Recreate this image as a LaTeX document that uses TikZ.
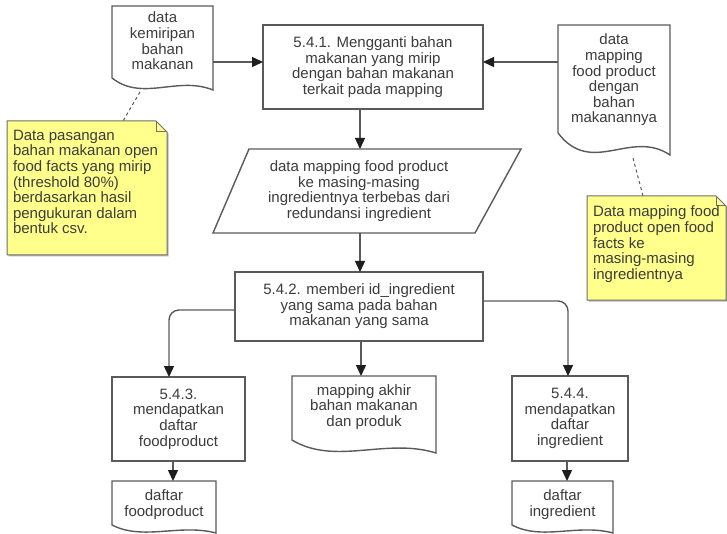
\documentclass[tikz,border=0pt]{standalone}
\usepackage{fontspec}
\setmainfont{Liberation Sans}
\usetikzlibrary{arrows.meta,calc}

\definecolor{ink}{HTML}{3C3C3C}
\definecolor{edge}{HTML}{5A5A5A}
\definecolor{tipc}{HTML}{1E1E1E}
\definecolor{notefill}{HTML}{FFFF8C}
\definecolor{noteedge}{HTML}{6E6E6E}

\tikzset{
  base/.style={inner sep=0pt, outer sep=0pt, text=ink, align=center,
    font=\fontsize{15}{15.6}\selectfont},
  procbox/.style={base, draw=edge, line width=1.4pt, fill=white},
  holder/.style={base, draw=none},
  txt/.style={base},
  notetxt/.style={base, align=left, anchor=north west},
  outline/.style={draw=edge, line width=1.4pt, fill=white, line join=miter},
  flow/.style={draw=edge, line width=1.4pt,
    -{Triangle[length=11pt,width=10pt,color=tipc]}},
  link/.style={draw=edge, line width=1pt, dash pattern=on 3pt off 3pt},
  notebody/.style={draw=noteedge, line width=1pt, fill=notefill},
  noteshadow/.style={fill=black!28},
}

% document symbol: flat top, wavy bottom; #2 = wave depth
\newcommand\docoutline[2]{%
  \draw[outline] (#1.north west) -- (#1.north east) -- (#1.south east)
    .. controls ($(#1.south west)!0.65!(#1.south east)+(0,-1.2*#2)$)
       and ($(#1.south west)!0.3!(#1.south east)+(0,#2)$)
    .. ($(#1.south west)+(0,-#2)$) -- cycle;}

% annotation sheet with a folded top-right corner; #2 = fold size
\newcommand\notepaper[2]{%
  \fill[noteshadow] ($(#1.south west)+(1.5,1.5)$) -- ($(#1.north west)+(1.5,1.5)$)
    -- ($(#1.north east)+(-#2+1.5,1.5)$) -- ($(#1.north east)+(1.5,#2+1.5)$)
    -- ($(#1.south east)+(1.5,1.5)$) -- cycle;
  \draw[notebody] (#1.south west) -- (#1.north west)
    -- ($(#1.north east)+(-#2,0)$) -- ($(#1.north east)+(0,#2)$)
    -- (#1.south east) -- cycle;
  \draw[draw=noteedge, line width=1pt] ($(#1.north east)+(-#2,0)$)
    -- ($(#1.north east)+(-#2,#2)$) -- ($(#1.north east)+(0,#2)$);}

\begin{document}
\begin{tikzpicture}[x=1pt, y=-1pt]
\useasboundingbox (0,0) rectangle (727,534);

% ---- annotations ----
\node[holder, minimum width=160pt, minimum height=134pt] (n1) at (87,188) {};
\notepaper{n1}{11}
\node[notetxt] (n1t) at (13,130) {Data pasangan\\bahan makanan open\\food facts yang mirip\\(threshold 80\%)\\berdasarkan hasil\\pengukuran dalam\\bentuk csv.};

\node[holder, minimum width=139pt, minimum height=104pt] (n2) at (656.5,248) {};
\notepaper{n2}{10}
\node[notetxt] (n2t) at (593,206) {Data mapping food\\product open food\\facts ke\\masing-masing\\ingredientnya};

% ---- input documents ----
\node[holder, minimum width=101pt, minimum height=84pt] (d1) at (162.5,48) {};
\docoutline{d1}{12}
\node[txt] (d1t) at ($(d1.center)+(0,-7)$) {data\\kemiripan\\bahan\\makanan};

\node[holder, minimum width=112pt, minimum height=130pt] (d2) at (614,90) {};
\docoutline{d2}{22}
\node[txt] (d2t) at ($(d2.center)+(0,-10)$) {data\\mapping\\food product\\dengan\\bahan\\makanannya};

% ---- process 5.4.1 ----
\node[procbox, minimum width=220pt, minimum height=84pt] (p541) at (373,67) {5.4.1. Mengganti bahan\\makanan yang mirip\\dengan bahan makanan\\terkait pada mapping};

% ---- intermediate data (parallelogram) ----
\node[holder, minimum width=308pt, minimum height=84pt] (io) at (367,191) {};
\draw[outline] (io.south west) -- ($(io.north west)+(36,0)$) -- (io.north east)
  -- ($(io.south east)+(-46,0)$) -- cycle;
\node[txt] (iot) at (359,191) {data mapping food product\\ke masing-masing\\ingredientnya terbebas dari\\redundansi ingredient};

% ---- process 5.4.2 ----
\node[procbox, minimum width=248pt, minimum height=69pt] (p542) at (359,306.5) {5.4.2. memberi id\_ingredient\\yang sama pada bahan\\makanan yang sama};

% ---- processes 5.4.3 / 5.4.4 ----
\node[procbox, minimum width=133pt, minimum height=84pt] (p543) at (178.5,419) {5.4.3.\\mendapatkan\\daftar\\foodproduct};
\node[procbox, minimum width=116pt, minimum height=85pt] (p544) at (570,418.5) {5.4.4.\\mendapatkan\\daftar\\ingredient};

% ---- output documents ----
\node[holder, minimum width=144pt, minimum height=77pt] (d3) at (364,414.5) {};
\docoutline{d3}{13}
\node[txt] (d3t) at ($(d3.center)+(0,-7.5)$) {mapping akhir\\bahan makanan\\dan produk};

\node[holder, minimum width=104pt, minimum height=52pt] (d4) at (164,507) {};
\docoutline{d4}{8}
\node[txt] (d4t) at ($(d4.center)+(0,-2.5)$) {daftar\\foodproduct};

\node[holder, minimum width=101pt, minimum height=52pt] (d5) at (562.5,507) {};
\docoutline{d5}{8}
\node[txt] (d5t) at ($(d5.center)+(0,-2.5)$) {daftar\\ingredient};

% ---- connectors ----
\draw[link] ($(d1.south west)+(28,2)$) -- ($(n1.north)+(36,0)$);
\draw[link] ($(d2.south west)+(75,3)$) -- ($(n2.north)+(-13.5,0)$);

\draw[flow] ($(d1.east)+(0,14)$) -- ($(p541.west)+(0,-5)$);
\draw[flow] ($(d2.west)+(0,-28)$) -- ($(p541.east)+(0,-5)$);
\draw[flow] ($(p541.south)+(-13,0)$) -- ($(io.north)+(-7,0)$);
\draw[flow] ($(io.south)+(-7,0)$) -- ($(p542.north)+(1,0)$);
\draw[flow] ($(p542.south)+(2,0)$) -- ($(d3.north)+(-3,0)$);
\draw[flow, rounded corners=10pt] ($(p542.west)+(0,3.5)$) -| ($(p543.north)+(-9.5,0)$);
\draw[flow, rounded corners=10pt] ($(p542.east)+(0,-5.5)$) -| ($(p544.north)+(-2,0)$);
\draw[flow] ($(p543.south)+(-5.5,0)$) -- ($(d4.north)+(9,0)$);
\draw[flow] ($(p544.south)+(-3,0)$) -- ($(d5.north)+(4.5,0)$);
\end{tikzpicture}
\end{document}
